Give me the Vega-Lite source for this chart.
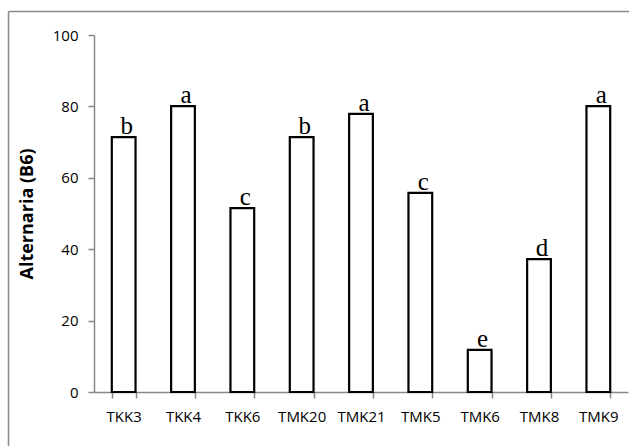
{
  "$schema": "https://vega.github.io/schema/vega-lite/v6.json",
  "autosize": {"type": "none"},
  "padding": {"left": 8, "top": 11, "right": 0, "bottom": 0},
  "width": 621,
  "height": 435,
  "background": "white",
  "config": {"view": {"stroke": null}},
  "data": {
    "values": [
      {"strain": "TKK3", "value": 71.4, "letter": "b"},
      {"strain": "TKK4", "value": 80.1, "letter": "a"},
      {"strain": "TKK6", "value": 51.5, "letter": "c"},
      {"strain": "TMK20", "value": 71.4, "letter": "b"},
      {"strain": "TMK21", "value": 77.9, "letter": "a"},
      {"strain": "TMK5", "value": 55.8, "letter": "c"},
      {"strain": "TMK6", "value": 11.8, "letter": "e"},
      {"strain": "TMK8", "value": 37.2, "letter": "d"},
      {"strain": "TMK9", "value": 80.1, "letter": "a"}
    ]
  },
  "layer": [
    {
      "layer": [
        {
          "mark": {"type": "bar", "fill": "white", "stroke": "black", "strokeWidth": 2.2}
        },
        {
          "mark": {"type": "text", "font": "Liberation Serif", "fontSize": 25, "baseline": "alphabetic", "align": "center", "dx": 3, "dy": -3, "color": "black"},
          "encoding": {"text": {"field": "letter"}}
        }
      ],
      "encoding": {
        "x": {
          "field": "strain",
          "type": "nominal",
          "sort": null,
          "scale": {"range": [86, 620], "paddingInner": 0.6, "paddingOuter": 0.3},
          "axis": {
            "title": null,
            "offset": -54,
            "labelAngle": 0,
            "tickBand": "extent",
            "domainColor": "#898989",
            "domainWidth": 1.5,
            "tickColor": "#898989",
            "tickWidth": 1.5,
            "tickSize": 6,
            "labelFont": "Open Sans",
            "labelFontSize": 15,
            "labelColor": "#000000",
            "labelPadding": 11
          }
        },
        "y": {
          "field": "value",
          "type": "quantitative",
          "scale": {"domain": [0, 100], "range": [381, 24], "nice": false},
          "axis": {
            "offset": -86,
            "values": [0, 20, 40, 60, 80, 100],
            "grid": false,
            "domainColor": "#898989",
            "domainWidth": 1.5,
            "tickColor": "#898989",
            "tickWidth": 1.5,
            "tickSize": 6,
            "labelFont": "Open Sans",
            "labelFontSize": 15,
            "labelColor": "#000000",
            "labelPadding": 10,
            "title": "Alternaria (B6)",
            "titleFont": "Open Sans",
            "titleFontSize": 18,
            "titleLimit": 1000,
            "titleFontWeight": "bold",
            "titleColor": "#000000",
            "titleX": -58
          }
        }
      }
    },
    {
      "mark": {"type": "point", "opacity": 0},
      "encoding": {
        "x": {
          "field": "value",
          "type": "quantitative",
          "scale": {"domain": [0, 1000], "nice": false, "zero": false},
          "axis": {"orient": "top", "offset": 0, "title": null, "labels": false, "ticks": false, "grid": false, "domainColor": "#898989", "domainWidth": 1.5}
        },
        "y": {
          "field": "value",
          "type": "quantitative",
          "scale": {"domain": [0, 1000], "nice": false, "zero": false},
          "axis": {"orient": "left", "offset": 0, "title": null, "labels": false, "ticks": false, "grid": false, "domainColor": "#898989", "domainWidth": 1.5}
        }
      }
    }
  ],
  "resolve": {"scale": {"x": "independent", "y": "independent"}}
}
